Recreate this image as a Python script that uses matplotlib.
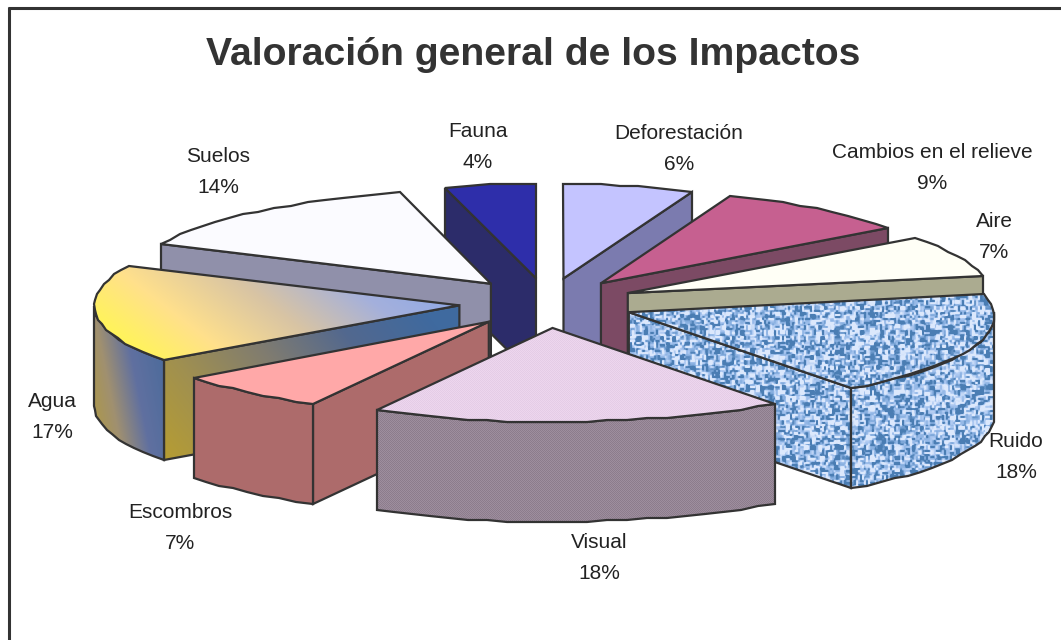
import numpy as np
import matplotlib
matplotlib.use('Agg')
import matplotlib.pyplot as plt
from matplotlib.patches import Polygon

plt.rcParams['font.family'] = ['Liberation Sans', 'DejaVu Sans']

# Chart data
title = 'Valoración general de los Impactos'
labels = ['Deforestación', 'Cambios en el relieve', 'Aire', 'Ruido', 'Visual',
          'Escombros', 'Agua', 'Suelos', 'Fauna']
values = [6, 9, 7, 18, 18, 7, 17, 14, 4]

# Layout, in pixels of the picture
label_x = [679, 932, 994, 1016, 599, 180, 52, 218, 478]
label_y = [149, 168, 237, 457, 558, 528, 417, 172, 147]
cx, cy = 547, 303       # pie centre
rx, ry = 365, 94        # pie radii on screen
ex, ey = 88, 25         # how far the slices are pulled out
persp = 0.045           # right front of the pie is drawn a bit wider
depth = 100
edge = '#333333'

top_colors = ['#C4C4FF', '#C66090', '#FFFFF6', None, None, '#FFA8A8', None, '#FBFBFF', '#2E2EAA']
side_colors = ['#7B7BAF', '#7C4A64', '#ABAB90', None, None, '#AD6B6B', None, '#9090AA', '#2C2C6A']
# back to front order of the slices
draw_order = [8, 0, 1, 7, 2, 6, 3, 5, 4]

W, H = 1061, 640
fig = plt.figure(figsize=(W / 100, H / 100), dpi=100)
ax = fig.add_axes([0, 0, 1, 1])
ax.set_xlim(0, W)
ax.set_ylim(H, 0)
ax.axis('off')

yy, xx = np.mgrid[0:H, 0:W]


def fract(a):
    return a - np.floor(a)


def rgb(hex_color):
    return np.array(matplotlib.colors.to_rgb(hex_color))


def ramp(t, stops):
    # colour ramp over t in 0..1
    t = np.clip(t, 0, 1)
    pos = np.linspace(0, 1, len(stops))
    return np.dstack([np.interp(t, pos, [rgb(s)[i] for s in stops]) for i in range(3)])


def stipple(c1, c2):
    check = ((xx + yy) % 2)[..., None]
    return rgb(c1) * check + rgb(c2) * (1 - check)


def weave():
    # blue cloth texture: short horizontal and vertical threads, smoothed a little
    across = fract(np.sin((xx // 5) * 12.9898 + (yy // 2) * 78.233) * 43758.5453)
    along = fract(np.sin((xx // 2) * 39.346 + (yy // 5) * 11.135) * 24634.6345)
    cell = ((xx // 6 + yy // 6) % 2).astype(bool)
    noise = np.where(cell, across, along)
    noise = (2 * noise + np.roll(noise, 1, 0) + np.roll(noise, -1, 0)
             + np.roll(noise, 1, 1) + np.roll(noise, -1, 1)) / 6
    t = np.clip((noise - 0.25) * 2.0, 0, 1)
    return ramp(t, ['#4A7DB3', '#86AEDF', '#A9C6F0', '#DCE8FC'])


def paint(points, color=None, image=None, zorder=2):
    poly = Polygon(points, closed=True, facecolor=color if color else 'none',
                   edgecolor=edge, linewidth=1.6, joinstyle='miter', zorder=zorder + 0.1)
    if image is not None:
        under = Polygon(points, closed=True, facecolor='white', edgecolor='none', zorder=zorder)
        ax.add_patch(under)
        im = ax.imshow(image, extent=(0, W, H, 0), interpolation='bilinear', zorder=zorder + 0.05,
                       aspect='auto')
        im.set_clip_path(under)
    ax.add_patch(poly)


def rim(a1, a2, ox, oy):
    # outer rim between two angles, snapped to a coarse grid for the rough old-office look
    steps = max(2, int(abs(a2 - a1) / 3))
    a = np.radians(np.linspace(a1, a2, steps + 1))
    stretch = 1 - persp * np.cos(a) * (np.sin(a) > 0)
    x = ox + rx * np.sin(a) * stretch
    y = oy - ry * np.cos(a)
    return np.column_stack([np.round(x), np.round(y / 2) * 2])


ruido_tex = weave()
visual_top = stipple('#EDD6EE', '#E4CCE6')
visual_side = stipple('#9E8E9E', '#8C7C8C')
agua_top = ramp(((xx - 130) * 0.85 + (360 - yy) * 1.1) / 360, ['#FFF850', '#FFE08C', '#D8C4A4', '#A4B0DC', '#8CA8E8'])
agua_face = ramp(((xx - 165) * 0.9 + (470 - yy) * 0.7) / 345, ['#B89E30', '#A09050', '#807C70', '#52688F', '#3F6A9F'])
agua_wall = ramp(((xx - 95) * 1.0 + (460 - yy) * 0.2) / 85, ['#B09A40', '#A09070', '#6070A0', '#4F6C9C'])

images = {
    'Ruido': (ruido_tex, ruido_tex, ruido_tex),
    'Visual': (visual_top, visual_side, visual_side),
    'Agua': (agua_top, agua_face, agua_wall),
}

total = sum(values)
ends = np.cumsum(values) / total * 360
starts = ends - np.array(values) / total * 360

z = 2
for i in draw_order:
    a1, a2 = starts[i], ends[i]
    mid = np.radians((a1 + a2) / 2)
    ox = cx + ex * np.sin(mid)
    oy = cy - ey * np.cos(mid)
    apex = np.array([[ox, oy]])
    down = np.array([0, depth])
    arc = rim(a1, a2, ox, oy)

    tex = images.get(labels[i])
    top_kw = {'image': tex[0]} if tex else {'color': top_colors[i]}
    face_kw = {'image': tex[1]} if tex else {'color': side_colors[i]}
    wall_kw = {'image': tex[2]} if tex else {'color': side_colors[i]}

    # cut faces turned towards the viewer
    if np.cos(np.radians(a1 - 90)) < 0:
        p = arc[0]
        paint(np.vstack([apex, [p], [p + down], apex + down]), zorder=z, **face_kw)
        z += 1
    if np.cos(np.radians(a2 + 90)) < 0:
        p = arc[-1]
        paint(np.vstack([apex, [p], [p + down], apex + down]), zorder=z, **face_kw)
        z += 1

    # outer wall, only the part on the front half
    w1, w2 = max(a1, 90), min(a2, 270)
    if w2 > w1:
        wall = rim(w1, w2, ox, oy)
        paint(np.vstack([wall, (wall + down)[::-1]]), zorder=z, **wall_kw)
        z += 1

    paint(np.vstack([apex, arc]), zorder=z, **top_kw)
    z += 1

# chart frame, only top and left show
ax.plot([8, W], [7.5, 7.5], color=edge, lw=2.2, solid_capstyle='butt', zorder=50)
ax.plot([8.5, 8.5], [7, H], color=edge, lw=2.2, solid_capstyle='butt', zorder=50)

ax.text(533, 55, title, fontsize=28.2, fontweight='bold', color='#333333', ha='center', va='center', zorder=60)
for name, val, x, y in zip(labels, values, label_x, label_y):
    ax.text(x, y, f'{name}\n{val}%', fontsize=15.0, color='#222222', ha='center', va='center',
            linespacing=1.76, zorder=60)

ax.set_xlim(0, W)
ax.set_ylim(H, 0)
fig.savefig('out.png', dpi=100, facecolor='white')
